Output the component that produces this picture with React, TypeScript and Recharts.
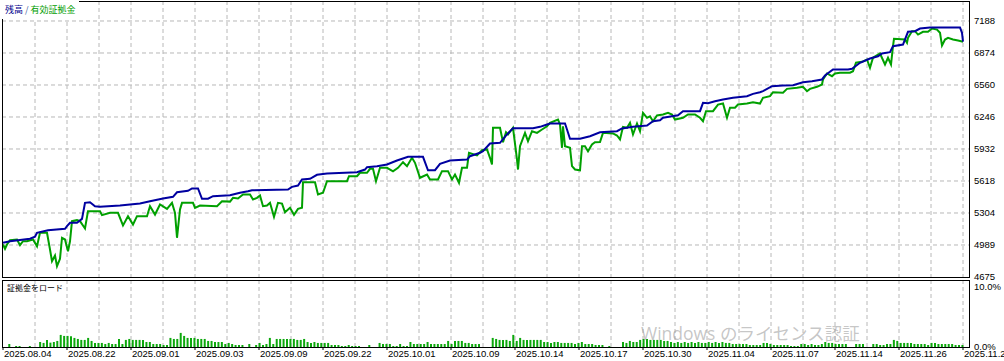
import React from 'react';
import { LineChart, ComposedChart, Line, Bar, XAxis, YAxis, CartesianGrid } from 'recharts';

// x = position along the test (deal progress, 0..960)
const balanceSteps = [0, 7, 27, 32, 34, 45, 62, 64, 67, 74, 79, 82, 87, 92, 97, 117, 127, 137, 147, 160, 170, 174, 185, 189, 195, 199, 205, 210, 227, 237, 245, 249, 285, 289, 295, 299, 307, 314, 324, 354, 362, 364, 374, 384, 394, 405, 420, 425, 432, 437, 447, 464, 467, 477, 480, 487, 497, 504, 510, 530, 537, 544, 547, 562, 564, 567, 577, 587, 597, 614, 619, 630, 644, 650, 657, 660, 669, 675, 680, 697, 700, 705, 712, 720, 730, 744, 750, 757, 760, 769, 780, 790, 800, 809, 819, 822, 830, 845, 849, 857, 867, 875, 879, 887, 890, 900, 905, 912, 917, 927, 957, 959, 960];
const balanceValues = [5011, 5026, 5050, 5070, 5109, 5134, 5148, 5174, 5207, 5207, 5246, 5403, 5409, 5370, 5364, 5377, 5387, 5396, 5419, 5446, 5462, 5507, 5521, 5544, 5544, 5443, 5443, 5468, 5478, 5502, 5517, 5527, 5534, 5560, 5573, 5632, 5639, 5678, 5691, 5704, 5730, 5753, 5763, 5779, 5819, 5855, 5855, 5723, 5723, 5786, 5819, 5828, 5861, 5894, 5910, 5985, 5992, 6074, 6136, 6136, 6149, 6172, 6182, 6182, 6123, 6032, 6032, 6057, 6095, 6106, 6133, 6149, 6162, 6204, 6214, 6238, 6253, 6263, 6303, 6303, 6385, 6381, 6401, 6417, 6434, 6450, 6473, 6489, 6500, 6548, 6555, 6558, 6587, 6597, 6614, 6653, 6712, 6712, 6719, 6778, 6820, 6842, 6869, 6882, 6941, 6957, 7082, 7088, 7114, 7124, 7124, 7072, 6985];

const equitySteps = [0, 2, 4, 7, 14, 17, 20, 24, 30, 34, 37, 44, 47, 49, 52, 54, 57, 59, 62, 65, 67, 69, 74, 77, 82, 85, 97, 99, 107, 115, 120, 125, 130, 134, 144, 147, 152, 157, 164, 169, 172, 174, 177, 179, 190, 192, 197, 214, 219, 227, 230, 235, 240, 247, 250, 254, 257, 260, 264, 267, 271, 275, 279, 282, 287, 291, 295, 299, 300, 312, 315, 320, 324, 344, 346, 354, 357, 364, 367, 370, 373, 377, 384, 390, 395, 400, 404, 409, 412, 417, 424, 427, 435, 439, 445, 449, 452, 456, 459, 464, 466, 474, 479, 484, 487, 489, 490, 497, 500, 503, 505, 510, 514, 515, 517, 522, 525, 529, 534, 539, 544, 547, 555, 557, 559, 560, 562, 567, 569, 572, 577, 579, 582, 585, 589, 592, 597, 600, 610, 614, 617, 620, 624, 627, 630, 634, 637, 640, 644, 647, 650, 654, 660, 665, 669, 672, 680, 685, 692, 697, 700, 703, 710, 715, 720, 724, 727, 732, 735, 744, 750, 757, 760, 767, 770, 780, 784, 794, 800, 804, 807, 814, 819, 820, 824, 829, 832, 837, 847, 850, 853, 859, 864, 867, 870, 877, 882, 885, 888, 890, 891, 902, 904, 905, 909, 912, 915, 920, 925, 929, 934, 937, 939, 942, 945, 950, 955, 960];
const equityValues = [4994, 4952, 4994, 5036, 5043, 4987, 5026, 5026, 5043, 4977, 5109, 5109, 4945, 4830, 4886, 4781, 4854, 5060, 5043, 4928, 5026, 5223, 5233, 5223, 5151, 5321, 5321, 5282, 5305, 5305, 5181, 5272, 5190, 5272, 5272, 5370, 5288, 5387, 5344, 5403, 5305, 5060, 5338, 5403, 5403, 5354, 5377, 5370, 5419, 5415, 5452, 5445, 5485, 5485, 5436, 5452, 5475, 5370, 5377, 5403, 5266, 5403, 5396, 5311, 5354, 5286, 5344, 5354, 5606, 5606, 5485, 5502, 5615, 5615, 5664, 5664, 5698, 5698, 5737, 5737, 5615, 5747, 5747, 5713, 5747, 5802, 5763, 5845, 5796, 5649, 5681, 5632, 5632, 5714, 5714, 5632, 5681, 5600, 5747, 5747, 5894, 5868, 5920, 5927, 5845, 5779, 6140, 6140, 5998, 6096, 6074, 6140, 5828, 5730, 5959, 6090, 6008, 6106, 6090, 6123, 6155, 6189, 6221, 6172, 5943, 6155, 5959, 5943, 5763, 5730, 5723, 5959, 5959, 5910, 5976, 5998, 6000, 6090, 6084, 6064, 6025, 6149, 6140, 6189, 6074, 6182, 6106, 6287, 6238, 6253, 6204, 6260, 6270, 6287, 6270, 6221, 6238, 6270, 6270, 6238, 6204, 6303, 6303, 6368, 6378, 6238, 6336, 6336, 6368, 6378, 6391, 6378, 6434, 6450, 6489, 6483, 6522, 6532, 6542, 6499, 6522, 6542, 6565, 6614, 6673, 6646, 6673, 6680, 6680, 6695, 6778, 6787, 6810, 6729, 6827, 6869, 6761, 6827, 6761, 6941, 7013, 7006, 6974, 7023, 7088, 7088, 7055, 7082, 7082, 7114, 7104, 7072, 6947, 7006, 7023, 7006, 6996, 6985];

// margin load per deal slot, %
const marginLoad = [
  0.5, 0, 0.17, 0.17, 0, 0, 0.17, 0, 0, 0.83,
  0.67, 1.17, 0.72, 0.83, 1.0, 2.0, 1.83, 1.83, 1.78, 1.5,
  1.33, 1.17, 1.17, 1.5, 1.0, 0.67, 0.67, 0.67, 0.5, 0.67,
  0.5, 0.5, 1.33, 0.5, 1.17, 1.33, 1.17, 1.17, 1.17, 1.17,
  0.83, 0.83, 0.5, 0.5, 0.5, 0.33, 0.33, 1.5, 1.33, 1.33,
  2.33, 1.83, 1.5, 1.5, 1.5, 1.33, 1.33, 1.33, 1.0, 1.0,
  0.83, 0.83, 0.83, 0.5, 0.67, 0.5, 0.33, 0.33, 0.33, 0,
  0.5, 0, 0.33, 0.67, 0.33, 0.5, 1.5, 0.5, 1.33, 1.33,
  1.33, 1.33, 1.33, 1.33, 1.17, 1.17, 1.33, 0.83, 0.67, 0.83,
  0.67, 0.67, 0.67, 0.67, 0.33, 0.33, 0.33, 0.17, 0.17, 0.33,
  0.17, 0.17, 0.17, 0, 0, 0.33, 0, 0, 0.67, 0.5,
  0.5, 0.5, 0.17, 0.17, 0.5, 0.17, 0.17, 0.83, 0.5, 0.5,
  0.5, 0.5, 0.83, 0.5, 0.5, 0.5, 0.5, 0.5, 1.0, 0.5,
  1.0, 1.0, 1.0, 0.67, 0.67, 0.5, 0.5, 0.5, 0, 0,
  0, 1.5, 1.33, 1.17, 1.17, 1.17, 1.0, 2.0, 1.0, 1.5,
  1.17, 1.17, 1.17, 1.17, 1.17, 1.17, 0.83, 0.83, 0.67, 0.83,
  0.83, 0.67, 0.67, 0.67, 0.67, 0.5, 0.67, 0.83, 0.5, 0.5,
  0.5, 0.33, 0.33, 0.33, 0, 0.17, 0, 0, 0, 0.83,
  0.67, 1.0, 0.83, 0.83, 1.17, 1.33, 1.33, 1.17, 1.17, 1.17,
  1.17, 1.0, 1.0, 0.83, 0.67, 0.83, 0.67, 0.83, 0.67, 0.83,
  0.67, 0.83, 0.67, 0.67, 0.83, 0.67, 0.83, 0.67, 0.83, 0.67,
  0.67, 0.5, 0.5, 0.5, 0.5, 0.5, 0.33, 0.33, 0.33, 0.33,
  0.67, 0.67, 0.5, 0.33, 0.33, 0.33, 0.33, 0.33, 0.17, 0.17,
  0.17, 0.5, 0.5, 0.33, 0.5, 0.33, 0.33, 0.5, 0.83, 0.67,
  0.67, 0.5, 0.5, 0.5, 0.5, 0, 0, 0.5, 0.5, 0.5,
  0, 0, 0.5, 0.5, 0.33, 0.33, 0.5, 0.5, 1.17, 1.0,
  0.67, 0.67, 0.67, 0.67, 0.5, 0.5, 0.5, 0.5, 0.33, 0.67,
  0.67, 0.5, 0.5, 0.5, 0.5, 0.5, 0.33, 0.33, 0.33,
];

const dateLabels = ['2025.08.04', '2025.08.22', '2025.09.01', '2025.09.03', '2025.09.09', '2025.09.22', '2025.10.01', '2025.10.09', '2025.10.14', '2025.10.17', '2025.10.30', '2025.11.04', '2025.11.07', '2025.11.14', '2025.11.26', '2025.11.28'];
const priceTicks = [4675, 4989.125, 5303.25, 5617.375, 5931.5, 6245.625, 6559.75, 6873.875, 7188];
const priceLabels = ['4675', '4989', '5304', '5618', '5932', '6246', '6560', '6874', '7188'];
const loadTicks = [0, 10];
const loadLabels = ['0.0%', '10.0%'];

const balanceData = balanceSteps.map((x, i) => ({ x, v: balanceValues[i] }));
const equityData = equitySteps.map((x, i) => ({ x, v: equityValues[i] }));
const slotWidth = 960 / 280;
const loadData = marginLoad.map((v, i) => ({ x: 6 + i * slotWidth, v }));
const labelSteps = dateLabels.map((_, i) => i * 64);
const gridSteps = Array.from({ length: 30 }, (_, i) => (i + 1) * 32);

const X_DOMAIN: [number, number] = [-1, 966];
const AXIS_FONT = '"Liberation Sans", Arial, sans-serif';
const CJK_FONT = '"Noto Sans CJK JP", sans-serif';
const GRID = '#b8b8b8';
const BLUE = '#0000a0';
const GREEN = '#00a000';

const DateTick = (props: any) => {
  const { x, y, payload } = props;
  const idx = Math.round(payload.value / 64);
  return (
    <g>
      <line x1={x} x2={x} y1={y} y2={y + 3} stroke="#000" />
      <text x={x + 1} y={y + 10} fontSize={9.5} fontFamily={AXIS_FONT} fill="#000" textAnchor="start">
        {dateLabels[idx]}
      </text>
    </g>
  );
};

export default function App() {
  return (
    <div style={{ position: 'fixed', left: 0, top: 0, width: 1004, height: 361, background: '#fff', overflow: 'hidden' }}>
      <div style={{ position: 'absolute', left: 0, top: 0 }}>
        <LineChart width={1004} height={280} margin={{ top: 1, right: 0, bottom: 3, left: 2 }}>
          <CartesianGrid stroke={GRID} strokeDasharray="4 3" verticalValues={gridSteps} horizontalValues={priceTicks.slice(1)} />
          <XAxis type="number" dataKey="x" domain={X_DOMAIN} allowDataOverflow ticks={gridSteps} hide />
          <YAxis
            orientation="right"
            width={35}
            type="number"
            domain={[4675, 7384.3]}
            allowDataOverflow
            ticks={priceTicks}
            interval={0}
            tickFormatter={(v: number, i: number) => priceLabels[i]}
            tickLine={false}
            axisLine={false}
            tickSize={3}
            tickMargin={2}
            tick={{ fontSize: 9.5, fontFamily: AXIS_FONT, fill: '#000' }}
          />
          <Line data={equityData} dataKey="v" type="linear" stroke={GREEN} strokeWidth={2} dot={false} isAnimationActive={false} />
          <Line data={balanceData} dataKey="v" type="linear" stroke={BLUE} strokeWidth={2} dot={false} isAnimationActive={false} />
        </LineChart>
      </div>
      <div style={{ position: 'absolute', left: 0, top: 280 }}>
        <ComposedChart width={1004} height={81} data={loadData} margin={{ top: 0, right: 0, bottom: 0, left: 2 }}>
          <CartesianGrid stroke={GRID} strokeDasharray="4 3" verticalValues={gridSteps} horizontal={false} />
          <XAxis
            type="number"
            dataKey="x"
            domain={X_DOMAIN}
            allowDataOverflow
            ticks={labelSteps}
            interval={0}
            height={14}
            tickLine={false}
            axisLine={false}
            tickSize={0}
            tickMargin={0}
            tick={<DateTick />}
          />
          <YAxis
            orientation="right"
            width={35}
            type="number"
            domain={[0, 11.07]}
            allowDataOverflow
            ticks={loadTicks}
            interval={0}
            tickFormatter={(v: number, i: number) => loadLabels[i]}
            tickLine={false}
            axisLine={false}
            tickSize={3}
            tickMargin={2}
            tick={{ fontSize: 9.5, fontFamily: AXIS_FONT, fill: '#000' }}
          />
          <Bar dataKey="v" fill="#0ca80c" barSize={2} isAnimationActive={false} />
        </ComposedChart>
      </div>
      {/* panel frames */}
      <div style={{ position: 'absolute', left: 2, top: 1, width: 968, height: 277, border: '1px solid #000', boxSizing: 'border-box', pointerEvents: 'none' }} />
      <div style={{ position: 'absolute', left: 2, top: 280, width: 968, height: 68, border: '1px solid #000', boxSizing: 'border-box', pointerEvents: 'none' }} />
      {/* legend */}
      <div style={{ position: 'absolute', left: 0, top: 0, height: 19, paddingLeft: 5, paddingRight: 3, background: '#fff', fontFamily: CJK_FONT, fontSize: 9, lineHeight: '19px', whiteSpace: 'nowrap' }}>
        <span style={{ color: '#00008c' }}>残高</span>
        <span style={{ color: '#4060a0' }}> / </span>
        <span style={{ color: '#009c00' }}>有効証拠金</span>
      </div>
      <div style={{ position: 'absolute', left: 7, top: 282, fontFamily: CJK_FONT, fontSize: 8, lineHeight: '12px', color: '#000', whiteSpace: 'nowrap' }}>
        証拠金をロード
      </div>
      {/* OS watermark seen in the screenshot */}
      <div style={{ position: 'absolute', left: 641, top: 320, fontFamily: '"Open Sans", "Noto Sans CJK JP", sans-serif', fontSize: 17.5, lineHeight: '26px', color: 'rgba(150,150,150,0.55)', whiteSpace: 'nowrap', pointerEvents: 'none' }}>
        Windows のライセンス認証
      </div>
    </div>
  );
}
